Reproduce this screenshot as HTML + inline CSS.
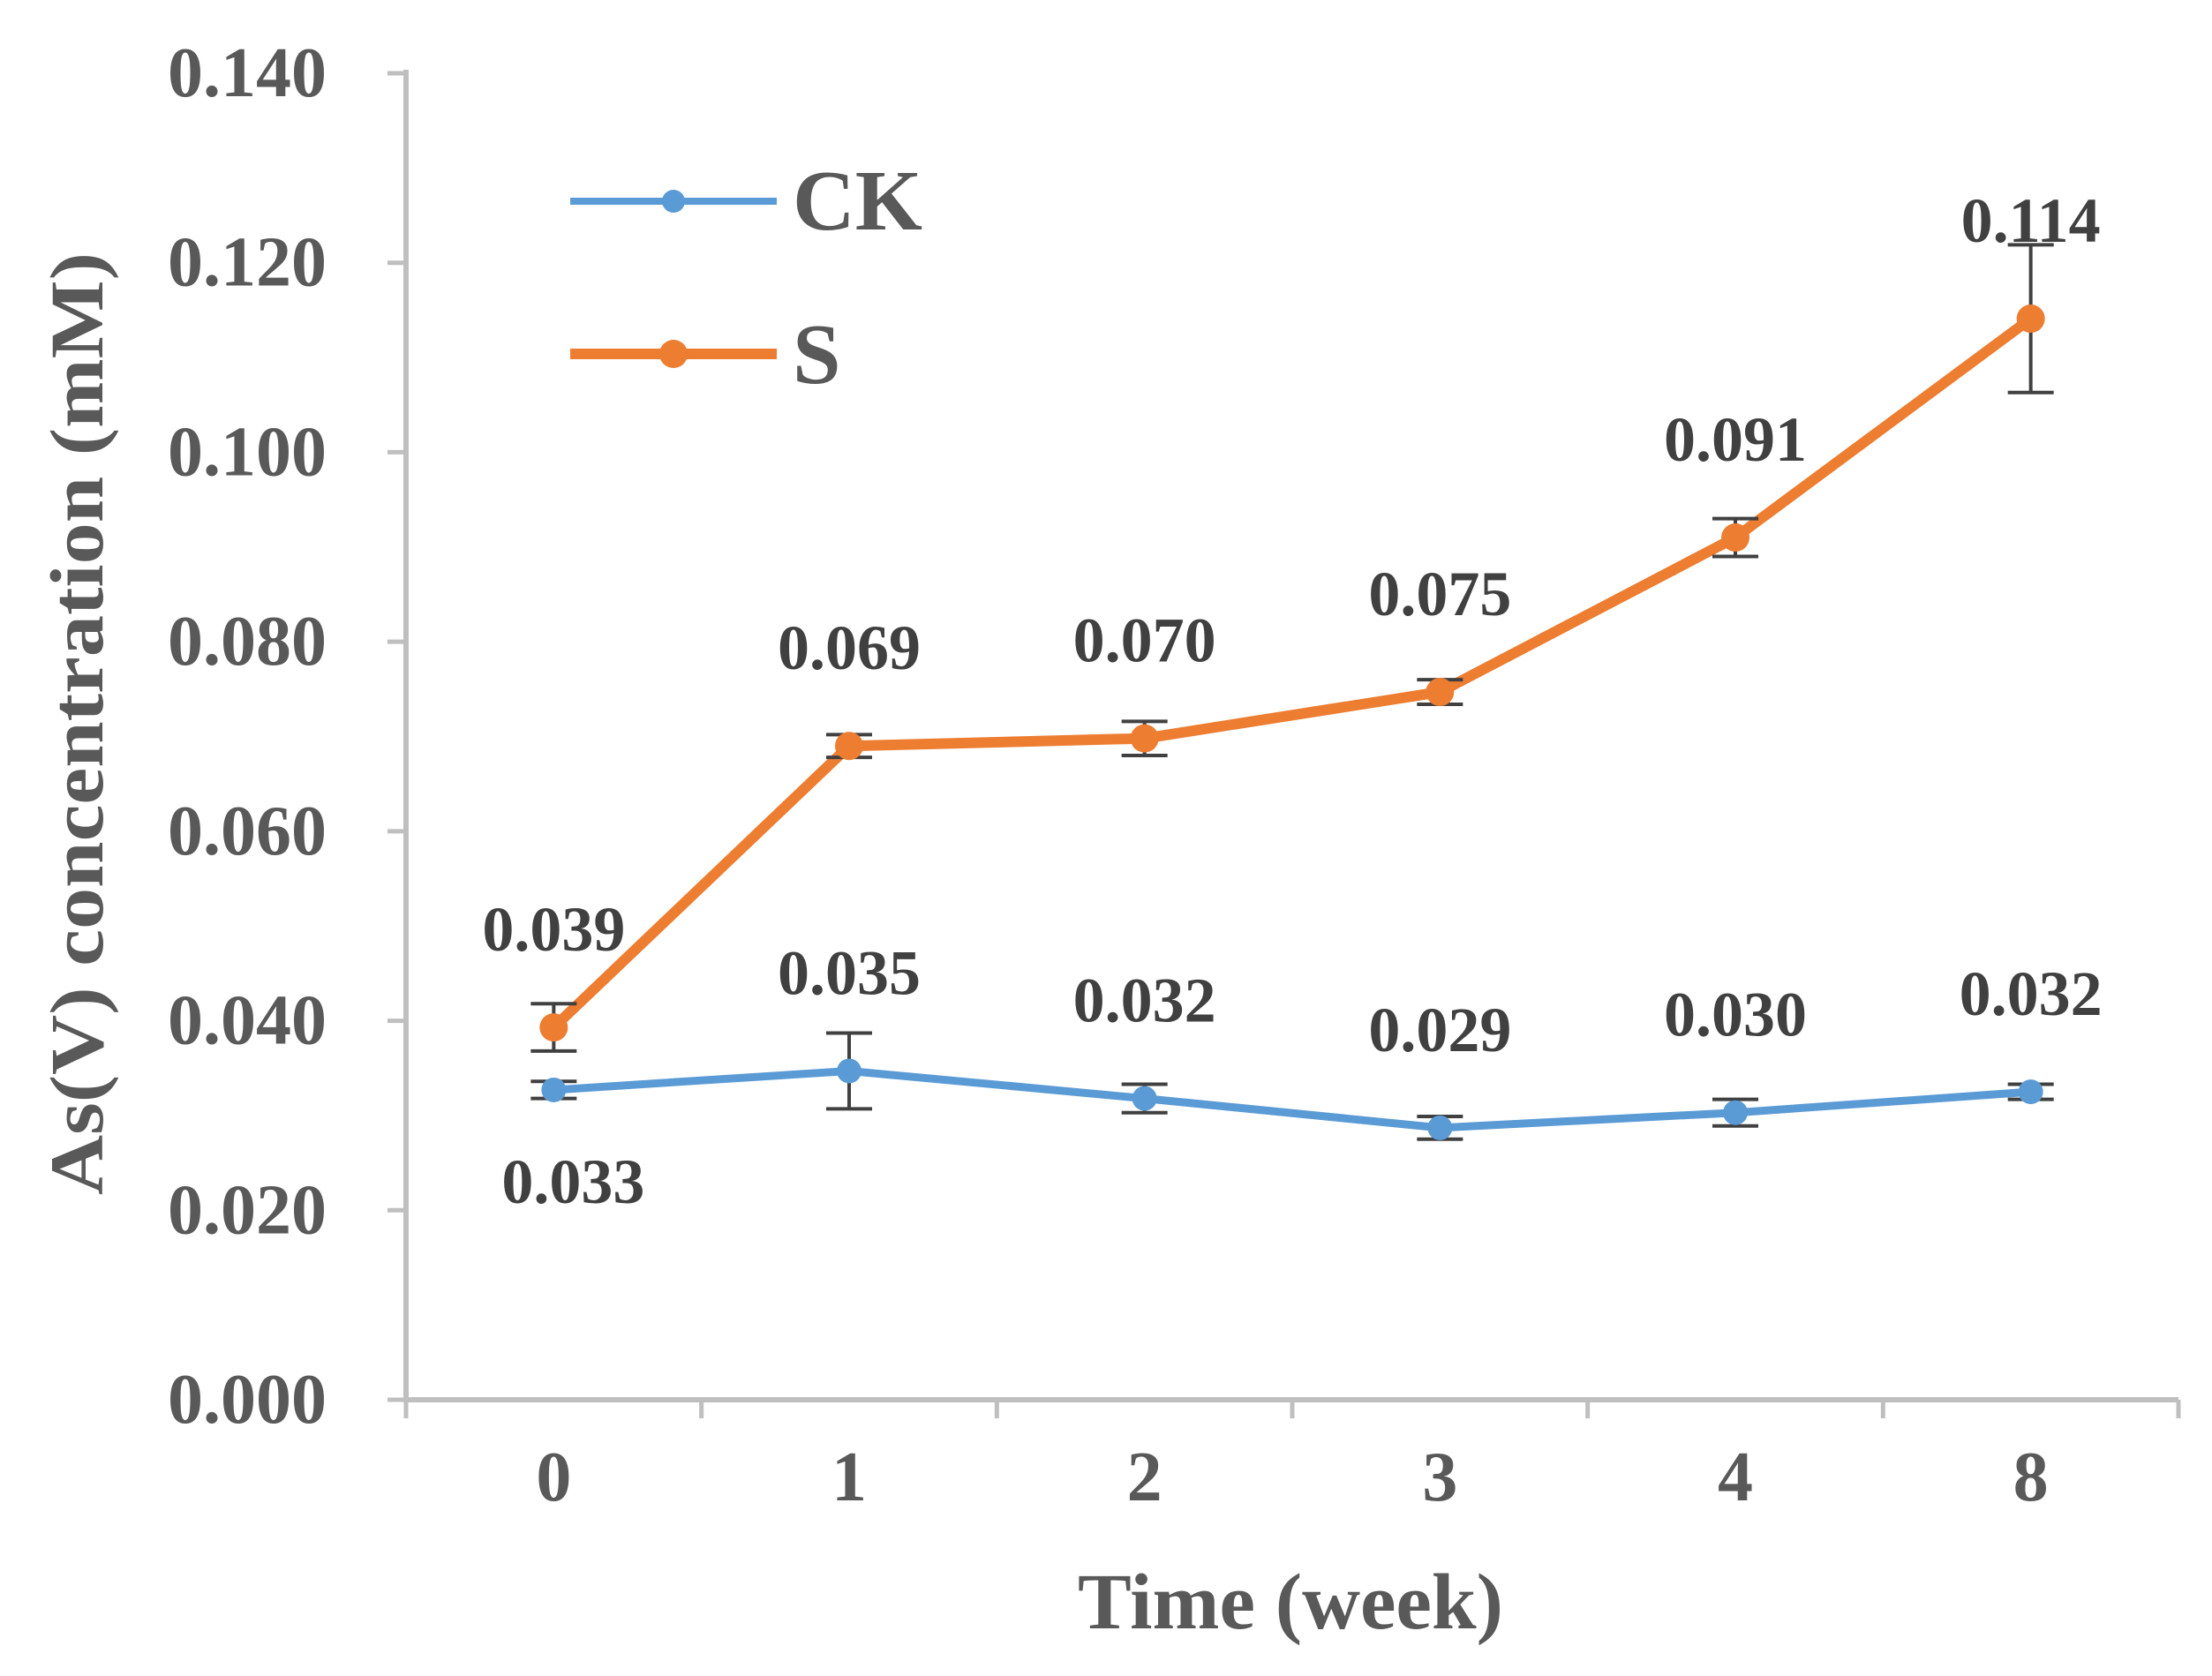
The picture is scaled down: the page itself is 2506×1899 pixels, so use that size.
<!DOCTYPE html>
<html><head><meta charset="utf-8"><style>
html,body{margin:0;padding:0;background:#fff;}
svg{display:block;font-family:"Liberation Serif",serif;font-weight:bold;}
</style></head><body>
<svg id="chart" width="2506" height="1899" viewBox="0 0 2506 1899" xmlns="http://www.w3.org/2000/svg">
<g id="axes"></g>
<g id="series"></g>
<text transform="translate(116,820) rotate(-90)" text-anchor="middle" font-size="86" fill="#595959" textLength="1068" lengthAdjust="spacingAndGlyphs">As(V) concentration (mM)</text>
<text x="1462" y="1845" text-anchor="middle" font-size="90" fill="#595959" textLength="482" lengthAdjust="spacingAndGlyphs">Time (week)</text>
<g>
<line x1="646" y1="228" x2="880" y2="228" stroke="#5b9bd5" stroke-width="8"/>
<circle cx="763" cy="228" r="13" fill="#5b9bd5"/>
<text x="898" y="260" font-size="98" fill="#595959">CK</text>
<line x1="646" y1="401" x2="880" y2="401" stroke="#ed7d31" stroke-width="12"/>
<circle cx="763" cy="401" r="16" fill="#ed7d31"/>
<text x="898" y="434" font-size="98" fill="#595959">S</text>
</g>
</svg>
<script>
const categories = ["0","1","2","3","4","8"];
const yTicks = [0,0.02,0.04,0.06,0.08,0.10,0.12,0.14];
const yTickLabels = ["0.000","0.020","0.040","0.060","0.080","0.100","0.120","0.140"];
const ckValues = [0.0327,0.0347,0.0318,0.0287,0.0303,0.0325];
const ckErrors = [0.0009,0.0040,0.0015,0.0012,0.0014,0.0008];
const ckLabels = ["0.033","0.035","0.032","0.029","0.030","0.032"];
const sValues = [0.0393,0.0690,0.0698,0.0747,0.0910,0.1141];
const sErrors = [0.0025,0.0012,0.0018,0.0013,0.0020,0.0078];
const sLabels = ["0.039","0.069","0.070","0.075","0.091","0.114"];

const NS="http://www.w3.org/2000/svg";
const X0=460,X1=2468,Y0=1586,Y1=83,YMAX=0.14;
const band=(X1-X0)/categories.length;
const xPos=i=>X0+band*(i+0.5);
const yPos=v=>Y0-(v/YMAX)*(Y0-Y1);
function mk(tag,attrs,parent){const e=document.createElementNS(NS,tag);for(const k in attrs)e.setAttribute(k,attrs[k]);parent.appendChild(e);return e;}
const axes=document.getElementById('axes'), series=document.getElementById('series');

let yl=mk('line',{x1:X0,y1:Y1-4,x2:X0,y2:Y0,stroke:'#bfbfbf','stroke-width':6},axes);


let xl=mk('line',{x1:X0-3,y1:Y0,x2:X1,y2:Y0,stroke:'#bfbfbf','stroke-width':6},axes);


yTicks.forEach((t,i)=>{
  const y=yPos(t);
  const tk=mk('line',{x1:X0-21,y1:y,x2:X0,y2:y,stroke:'#bfbfbf','stroke-width':5},axes);
  
  
  const tx=mk('text',{x:370,y:y+26,'text-anchor':'end','font-size':80,fill:'#595959'},axes);
  tx.textContent=yTickLabels[i];
  
  
});
for(let i=0;i<=categories.length;i++){
  const x=X0+band*i;
  const tk=mk('line',{x1:x,y1:Y0,x2:x,y2:Y0+21,stroke:'#bfbfbf','stroke-width':5},axes);
  
  
}
categories.forEach((c,i)=>{
  const tx=mk('text',{x:xPos(i),y:1700,'text-anchor':'middle','font-size':80,fill:'#595959'},axes);
  tx.textContent=c;
  
  
});

function drawSeries(vals,errs,labels,color,width,r,name,below0){
  const g=mk('g',{},series);
  
  
  const pts=vals.map((v,i)=>xPos(i)+','+yPos(v)).join(' ');
  const pl=mk('polyline',{points:pts,fill:'none',stroke:color,'stroke-width':width,'stroke-linejoin':'round'},g);
  
  
  vals.forEach((v,i)=>{
    const x=xPos(i),yt=yPos(v+errs[i]),yb=yPos(v-errs[i]);
    const eb=mk('path',{d:`M${x},${yt}V${yb}M${x-26},${yt}H${x+26}M${x-26},${yb}H${x+26}`,stroke:'#404040','stroke-width':4,fill:'none'},g);
    
    
  });
  vals.forEach((v,i)=>{
    const c=mk('circle',{cx:xPos(i),cy:yPos(v),r:r,fill:color},g);
    
    
  });
  vals.forEach((v,i)=>{
    const below=below0&&i===0;
    const t=mk('text',{x:xPos(i)+(below?22:0),y:yPos(v)+(below?128:-87),'text-anchor':'middle','font-size':72,fill:'#404040'},g);
    t.textContent=labels[i];
    
    
  });
}
drawSeries(ckValues,ckErrors,ckLabels,'#5b9bd5',9,14,'ck',true);
drawSeries(sValues,sErrors,sLabels,'#ed7d31',12,16,'s',false);
</script>
</body></html>
